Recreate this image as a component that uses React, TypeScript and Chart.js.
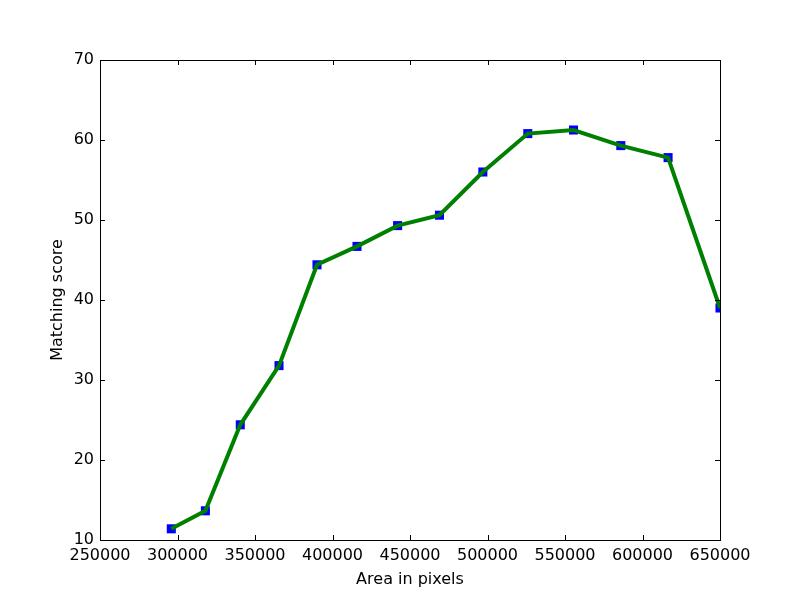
import React, { useEffect, useRef } from "react";
import { Chart, registerables } from "chart.js";

Chart.register(...registerables);

const areaPixels = [296000, 318000, 340500, 365500, 390000, 415800, 442000, 469000, 497000, 526000, 555500, 586000, 616500, 650000];
const matchingScore = [11.4, 13.65, 24.4, 31.8, 44.4, 46.7, 49.3, 50.6, 56.0, 60.8, 61.25, 59.3, 57.8, 39.0];
const xTicks = [250000, 300000, 350000, 400000, 450000, 500000, 550000, 600000, 650000];
const yTicks = [10, 20, 30, 40, 50, 60, 70];

const FONT = "'DejaVu Sans', sans-serif";

const frame = {
  id: "frame",
  afterDatasetsDraw(chart: any) {
    const { ctx, chartArea: a, scales } = chart;
    const L = 5;
    ctx.save();
    ctx.strokeStyle = "#000";
    ctx.lineWidth = 1;
    ctx.beginPath();
    for (const v of xTicks) {
      const x = Math.round(scales.x.getPixelForValue(v)) + 0.5;
      ctx.moveTo(x, a.bottom);
      ctx.lineTo(x, a.bottom - L);
      ctx.moveTo(x, a.top);
      ctx.lineTo(x, a.top + L);
    }
    for (const v of yTicks) {
      const y = Math.round(scales.y.getPixelForValue(v)) + 0.5;
      ctx.moveTo(a.left, y);
      ctx.lineTo(a.left + L, y);
      ctx.moveTo(a.right, y);
      ctx.lineTo(a.right - L, y);
    }
    ctx.stroke();
    ctx.strokeRect(Math.round(a.left) + 0.5, Math.round(a.top) + 0.5, Math.round(a.right - a.left), Math.round(a.bottom - a.top));
    ctx.restore();
  },
};

export default function App() {
  const ref = useRef<HTMLCanvasElement>(null);
  useEffect(() => {
    document.body.style.margin = "0";
    const pts = areaPixels.map((x, i) => ({ x, y: matchingScore[i] }));
    const chart = new Chart(ref.current!, {
      type: "line",
      data: {
        datasets: [
          {
            data: pts,
            borderColor: "#008000",
            borderWidth: 4,
            pointRadius: 0,
            fill: false,
            tension: 0,
            clip: 0,
          } as any,
          {
            data: pts,
            showLine: false,
            pointStyle: "rect",
            pointRadius: 6.4,
            pointBackgroundColor: "#0000ff",
            pointBorderWidth: 0,
            borderColor: "#0000ff",
            clip: 0,
          } as any,
        ],
      },
      options: {
        animation: false,
        responsive: false,
        layout: { padding: { top: 60, right: 80, left: 0, bottom: 0 } },
        plugins: { legend: { display: false }, tooltip: { enabled: false } },
        scales: {
          x: {
            type: "linear",
            min: 250000,
            max: 650000,
            afterFit: (s: any) => { s.height = 60; },
            afterBuildTicks: (s: any) => { s.ticks = xTicks.map((v) => ({ value: v })); },
            grid: { display: false, drawTicks: false },
            border: { display: false },
            ticks: { color: "#000", font: { family: FONT, size: 16 }, padding: 6, maxRotation: 0, autoSkip: false, callback: (v: any) => String(v) },
            title: { display: true, text: "Area in pixels", color: "#000", font: { family: FONT, size: 16 }, padding: { bottom: 11 } },
          },
          y: {
            type: "linear",
            min: 10,
            max: 70,
            afterFit: (s: any) => { s.width = 100; },
            afterBuildTicks: (s: any) => { s.ticks = yTicks.map((v) => ({ value: v })); },
            grid: { display: false, drawTicks: false },
            border: { display: false },
            ticks: { color: "#000", font: { family: FONT, size: 16 }, padding: 6, autoSkip: false, callback: (v: any) => String(v) },
            title: { display: true, text: "Matching score", color: "#000", font: { family: FONT, size: 16 }, padding: { top: 48 } },
          },
        },
      } as any,
      plugins: [frame],
    });
    return () => chart.destroy();
  }, []);
  return (
    <div style={{ width: 800, height: 600, background: "#fff" }}>
      <canvas ref={ref} width={800} height={600} style={{ display: "block" }} />
    </div>
  );
}
